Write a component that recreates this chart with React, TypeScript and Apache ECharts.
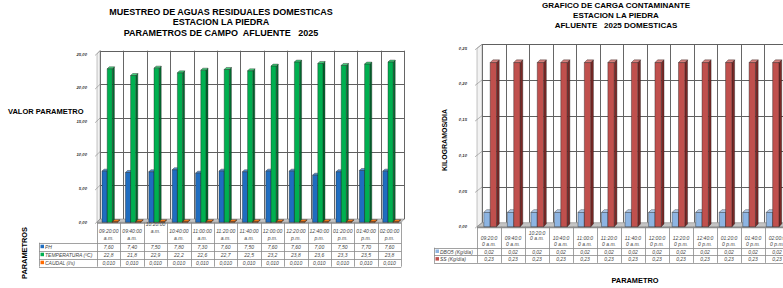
import React, { useEffect, useRef } from 'react';
import * as echarts from 'echarts';

// ---------- DATA ----------
const categories = [
  '09:20:00 a.m.', '09:40:00 a.m.', '10:20:00 a.m.', '10:40:00 a.m.', '11:00:00 a.m.',
  '11:20:00 a.m.', '11:40:00 a.m.', '12:00:00 p.m.', '12:20:00 p.m.', '12:40:00 p.m.',
  '01:20:00 p.m.', '01:40:00 p.m.', '02:00:00 p.m.',
];
const leftHeaders = [
  '09:20:00\na.m.', '09:40:00\na.m.', '10:20:00\na.m.\n', '10:40:00\na.m.', '11:00:00\na.m.',
  '11:20:00\na.m.', '11:40:00\na.m.', '12:00:00\np.m.', '12:20:00\np.m.', '12:40:00\np.m.',
  '01:20:00\np.m.', '01:40:00\np.m.', '02:00:00\np.m.',
];
const rightHeaders = [
  '09:20:0\n0 a.m.', '09:40:0\n0 a.m.', '10:20:0\n0 a.m.\n', '10:40:0\n0 a.m.', '11:00:0\n0 a.m.',
  '11:20:0\n0 a.m.', '11:40:0\n0 a.m.', '12:00:0\n0 p.m.', '12:20:0\n0 p.m.', '12:40:0\n0 p.m.',
  '01:20:0\n0 p.m.', '01:40:0\n0 p.m.', '02:00:0\n0 p.m.',
];
const phValues = [7.6, 7.4, 7.5, 7.8, 7.3, 7.6, 7.5, 7.6, 7.6, 7.0, 7.5, 7.7, 7.6];
const tempValues = [22.8, 21.8, 22.9, 22.2, 22.6, 22.7, 22.5, 23.2, 23.8, 23.6, 23.3, 23.5, 23.8];
const caudalValues = [0.01, 0.01, 0.01, 0.01, 0.01, 0.01, 0.01, 0.01, 0.01, 0.01, 0.01, 0.01, 0.01];
const dboValues = [0.02, 0.02, 0.02, 0.02, 0.02, 0.02, 0.02, 0.02, 0.02, 0.02, 0.02, 0.02, 0.02];
const ssValues = [0.23, 0.23, 0.23, 0.23, 0.23, 0.23, 0.23, 0.23, 0.23, 0.23, 0.23, 0.23, 0.23];
const leftTicks = [0, 5, 10, 15, 20, 25];
const rightTicks = [0, 0.05, 0.1, 0.15, 0.2, 0.25];

const leftTitle = 'MUESTREO DE AGUAS RESIDUALES DOMESTICAS\nESTACION LA PIEDRA\nPARAMETROS DE CAMPO  AFLUENTE   2025';
const rightTitle = 'GRAFICO DE CARGA CONTAMINANTE\nESTACION LA PIEDRA\nAFLUENTE   2025 DOMESTICAS';

const FONT = '"Liberation Sans", Arial, sans-serif';
const comma = (v: number, d: number) => v.toFixed(d).replace('.', ',');
const snap = (v: number) => Math.round(v) + 0.5;

type Spec = { name: string; values: number[]; front: string; side: string; top: string };

const leftSpecs: Spec[] = [
  { name: 'PH', values: phValues, front: '#1f6dc0', side: '#0c3c72', top: '#5592d8' },
  { name: 'TEMPERATURA (ºC)', values: tempValues, front: '#00b050', side: '#006e30', top: '#45d27d' },
  { name: 'CAUDAL (l/s)', values: caudalValues, front: '#ff6a00', side: '#b04a00', top: '#ff7d1a' },
];
const rightSpecs: Spec[] = [
  { name: 'DBO5 (Kg/día)', values: dboValues, front: '#8db4e2', side: '#5b80ad', top: '#b3cdee' },
  { name: 'SS (Kg/día)', values: ssValues, front: '#c0504d', side: '#7a2826', top: '#d6807d' },
];

// ---------- LAYOUT ----------
const L = { left: 97, top: 54, width: 304.2, height: 168.3, dx: 3, dy: -3.3, start: 0.214, w: 0.222, bdx: 2, bdy: -2 };
const R = { left: 477, top: 48.3, width: 312, height: 178.4, dx: 5, dy: -4, start: 0.29, w: 0.27, bdx: 2.7, bdy: -2.7 };

function bar3D(spec: Spec, k: number, axis: number, cfg: typeof L) {
  return {
    type: 'custom',
    name: spec.name,
    xAxisIndex: axis,
    yAxisIndex: axis,
    clip: false,
    z: 5,
    data: spec.values.map((v, i) => [i, v]),
    renderItem: (params: any, api: any) => {
      const i = api.value(0) as number;
      const v = api.value(1) as number;
      const cw = (api.size([1, 0]) as number[])[0];
      const b = api.coord([i, 0]);
      const t = api.coord([i, v]);
      const x0 = b[0] - cw / 2 + cw * (cfg.start + k * cfg.w);
      const x1 = x0 + cw * cfg.w;
      const yb = b[1];
      const yt = Math.min(t[1], yb - 0.6);
      const dx = cfg.bdx, dy = cfg.bdy;
      const st = { stroke: '#222', lineWidth: 0.4 };
      return {
        type: 'group',
        children: [
          { type: 'polygon', shape: { points: [[x1, yb], [x1 + dx, yb + dy], [x1 + dx, yt + dy], [x1, yt]] }, style: { fill: spec.side, ...st } },
          { type: 'polygon', shape: { points: [[x0, yt], [x1, yt], [x1 + dx, yt + dy], [x0 + dx, yt + dy]] }, style: { fill: spec.top, ...st } },
          { type: 'polygon', shape: { points: [[x0, yb], [x1, yb], [x1, yt], [x0, yt]] }, style: { fill: spec.front, ...st } },
        ],
      };
    },
  };
}

// back-wall grid: vertical lines at category boundaries and horizontal lines at each tick value,
// both through the front axes' scales shifted by the wall depth (dx, dy)
function wallGrid(axis: number, ticks: number[], n: number, cfg: typeof L) {
  const rows: number[][] = [];
  for (let i = 0; i <= n; i++) rows.push([Math.min(i, n - 1), 0, i === n ? 2 : 1]);
  ticks.forEach((v) => rows.push([0, v, 0]));
  const maxV = ticks[ticks.length - 1];
  return {
    type: 'custom',
    xAxisIndex: axis,
    yAxisIndex: axis,
    silent: true,
    clip: false,
    z: 1,
    data: rows,
    renderItem: (params: any, api: any) => {
      const kind = api.value(2);
      const cw = (api.size([1, 0]) as number[])[0];
      const yBottom = api.coord([0, 0])[1] + cfg.dy;
      const yTop = api.coord([0, maxV])[1] + cfg.dy;
      if (kind === 0) {
        const xl = api.coord([0, 0])[0] - cw / 2 + cfg.dx;
        const xr = xl + cw * n;
        const y = api.coord([0, api.value(1)])[1] + cfg.dy;
        // a thin filled band rather than a stroked line
        return { type: 'rect', shape: { x: xl, y: Math.round(y), width: xr - xl, height: 1 }, style: { fill: '#606060' } };
      }
      const c = api.coord([api.value(0), 0])[0] + cfg.dx;
      const x = snap(kind === 2 ? c + cw / 2 : c - cw / 2);
      return { type: 'line', shape: { x1: x, y1: yTop, x2: x, y2: yBottom }, style: { stroke: '#666', lineWidth: 1 } };
    },
  };
}

function txt(x: number, y: number, text: string, font: string, align: string, valign: string, extra: any = {}) {
  return {
    type: 'text',
    x,
    y,
    silent: true,
    z: 10,
    ...extra,
    style: {
      text,
      font,
      fill: extra.fill || '#222',
      align,
      verticalAlign: valign,
      textAlign: align,
      textVerticalAlign: valign,
      lineHeight: extra.lineHeight,
    },
  };
}

function line(x1: number, y1: number, x2: number, y2: number, color = '#8a8a8a', w = 0.8, z = 9) {
  return { type: 'line', silent: true, z, shape: { x1, y1, x2, y2 }, style: { stroke: color, lineWidth: w } };
}

function table(o: {
  left: number; legendLeft: number; cellW: number; headerTop: number; headerBottom: number; rowH: number;
  headers: string[]; headerLineH: number; rows: { label: string; color: string; cells: string[] }[];
}) {
  const els: any[] = [];
  const n = o.headers.length;
  const right = o.left + n * o.cellW;
  const bottom = o.headerBottom + o.rows.length * o.rowH;
  for (let j = 0; j <= n; j++) els.push(line(snap(o.left + j * o.cellW), o.headerTop, snap(o.left + j * o.cellW), bottom));
  els.push(line(snap(o.legendLeft), o.headerBottom, snap(o.legendLeft), bottom));
  for (let r = 0; r <= o.rows.length; r++) els.push(line(o.legendLeft, snap(o.headerBottom + r * o.rowH), right, snap(o.headerBottom + r * o.rowH)));
  const f = `italic 5px ${FONT}`;
  o.headers.forEach((h, j) => {
    els.push(txt(o.left + (j + 0.5) * o.cellW, o.headerBottom - 1, h, f, 'center', 'bottom', { lineHeight: o.headerLineH, fill: '#444' }));
  });
  o.rows.forEach((row, r) => {
    const cy = o.headerBottom + (r + 0.5) * o.rowH;
    els.push({ type: 'rect', silent: true, z: 10, shape: { x: o.legendLeft + 1.5, y: cy - 2, width: 3.5, height: 3.5 }, style: { fill: row.color } });
    els.push(txt(o.legendLeft + 6, cy, row.label, f, 'left', 'middle', { fill: '#444' }));
    row.cells.forEach((c, j) => els.push(txt(o.left + (j + 0.5) * o.cellW, cy, c, f, 'center', 'middle', { fill: '#444' })));
  });
  return els;
}

function floor(cfg: typeof L) {
  const yb = cfg.top + cfg.height;
  const xr = cfg.left + cfg.width;
  return [
    { type: 'polygon', silent: true, z: 3, shape: { points: [[cfg.left, yb], [xr, yb], [xr + cfg.dx, yb + cfg.dy], [cfg.left + cfg.dx, yb + cfg.dy]] }, style: { fill: '#c4c4c4', stroke: '#777', lineWidth: 0.5 } },
    { type: 'polygon', silent: true, z: 3, shape: { points: [[cfg.left, yb], [xr, yb], [xr, yb + 1.5], [cfg.left, yb + 1.5]] }, style: { fill: '#8c8c8c' } },
    { type: 'polygon', silent: true, z: 3, shape: { points: [[cfg.left, yb], [cfg.left, cfg.top], [cfg.left + cfg.dx, cfg.top + cfg.dy], [cfg.left + cfg.dx, yb + cfg.dy]] }, style: { fill: '#f2f2f2', stroke: '#888', lineWidth: 0.5 } },
  ];
}

function wallTicks(cfg: typeof L, count: number) {
  const els: any[] = [];
  for (let i = 0; i <= count; i++) {
    const y = cfg.top + (cfg.height * i) / count;
    els.push(line(cfg.left - 2, y + 1.5, cfg.left + cfg.dx, y + cfg.dy, '#888', 0.6, 4));
  }
  return els;
}

export default function App() {
  const ref = useRef<HTMLDivElement>(null);
  useEffect(() => {
    if (!ref.current) return;
    const chart = echarts.init(ref.current, undefined, { renderer: 'svg' });

    const grids = [
      { left: L.left, top: L.top, width: L.width, height: L.height },
      { left: R.left, top: R.top, width: R.width, height: R.height },
    ];
    const catAxis = (gi: number) => ({
      type: 'category', gridIndex: gi, data: categories, boundaryGap: true,
      axisLabel: { show: false }, axisTick: { show: false },
      axisLine: { show: false }, splitLine: { show: false },
    });
    const valAxis = (gi: number, max: number, interval: number, dec: number) => ({
      type: 'value', gridIndex: gi, min: 0, max, interval,
      axisLabel: {
        show: true, margin: 10, fontSize: 4.2, fontStyle: 'italic', fontWeight: 'bold', color: '#333', fontFamily: FONT,
        formatter: (v: number) => comma(v, dec),
      },
      axisTick: { show: false },
      axisLine: { show: false },
      splitLine: { show: false },
      splitArea: { show: false },
    });

    const graphics: any[] = [
      ...floor(L), ...floor(R as any), ...wallTicks(L, 5), ...wallTicks(R as any, 5),
      txt(221, 7, leftTitle, `bold 9px ${FONT}`, 'center', 'top', { lineHeight: 10.3, fill: '#000' }),
      txt(616, 0.5, rightTitle, `bold 8px ${FONT}`, 'center', 'top', { lineHeight: 10, fill: '#000' }),
      txt(8, 111, 'VALOR PARAMETRO', `bold 7.5px ${FONT}`, 'left', 'middle', { fill: '#000' }),
      txt(24, 253, 'PARAMETROS', `bold 7.4px ${FONT}`, 'center', 'middle', { fill: '#000', rotation: Math.PI / 2 }),
      txt(444, 140, 'KILOGRAMOS/DIA', `bold 7px ${FONT}`, 'center', 'middle', { fill: '#000', rotation: Math.PI / 2 }),
      txt(635, 280, 'PARAMETRO', `bold 7.4px ${FONT}`, 'center', 'middle', { fill: '#000' }),
      ...table({
        left: L.left, legendLeft: 39, cellW: L.width / 13, headerTop: L.top + L.height, headerBottom: 242.7, rowH: 8,
        headers: leftHeaders, headerLineH: 7,
        rows: [
          { label: leftSpecs[0].name, color: leftSpecs[0].front, cells: phValues.map((v) => comma(v, 2)) },
          { label: leftSpecs[1].name, color: leftSpecs[1].front, cells: tempValues.map((v) => comma(v, 1)) },
          { label: leftSpecs[2].name, color: leftSpecs[2].front, cells: caudalValues.map((v) => comma(v, 3)) },
        ],
      }),
      ...table({
        left: R.left, legendLeft: 434, cellW: R.width / 13, headerTop: R.top + R.height, headerBottom: 247.7, rowH: 7.6,
        headers: rightHeaders, headerLineH: 5.5,
        rows: [
          { label: rightSpecs[0].name, color: rightSpecs[0].front, cells: dboValues.map((v) => comma(v, 2)) },
          { label: rightSpecs[1].name, color: rightSpecs[1].front, cells: ssValues.map((v) => comma(v, 2)) },
        ],
      }),
    ];

    chart.setOption({
      animation: false,
      backgroundColor: '#fff',
      grid: grids,
      xAxis: [catAxis(0), catAxis(1)],
      yAxis: [valAxis(0, 25, 5, 2), valAxis(1, 0.25, 0.05, 2)],
      graphic: { elements: graphics },
      series: [
        wallGrid(0, leftTicks, categories.length, L),
        wallGrid(1, rightTicks, categories.length, R),
        ...leftSpecs.map((s, k) => bar3D(s, k, 0, L)),
        ...rightSpecs.map((s, k) => bar3D(s, k, 1, R)),
      ],
    } as any);
    return () => chart.dispose();
  }, []);
  return <div ref={ref} style={{ position: 'fixed', left: 0, top: 0, width: 783, height: 288 }} />;
}
